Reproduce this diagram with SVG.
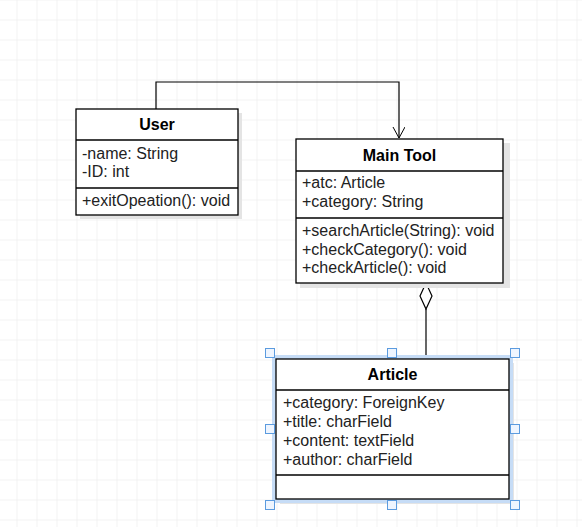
<svg xmlns="http://www.w3.org/2000/svg" width="582" height="527" viewBox="0 0 582 527">
<defs>
<pattern id="grid" x="16.5" y="19.5" width="20" height="20" patternUnits="userSpaceOnUse">
<path d="M0 0H20M0 0V20" fill="none" stroke="#e8e8e8" stroke-width="1"/>
</pattern>
<marker id="open" markerWidth="14" markerHeight="14" refX="11" refY="6" orient="auto" markerUnits="userSpaceOnUse">
<path d="M0 0L11 6L0 12" fill="none" stroke="#000" stroke-width="1"/>
</marker>
</defs>
<style>
.box{fill:#fff;stroke:#000;stroke-width:1.3}
.sh{fill:#e4e4e4}
.sep{stroke:#000;stroke-width:1.3}
.t{font-family:"Liberation Sans",Arial,sans-serif;font-size:16px;fill:#222}
.h{font-family:"Liberation Sans",Arial,sans-serif;font-size:16px;font-weight:bold;fill:#000;text-anchor:middle}
.hd{fill:#eef5ff;stroke:#5b9bdf;stroke-width:1}
</style>
<rect width="582" height="527" fill="#fff"/>
<rect width="582" height="527" fill="url(#grid)"/>

<g id="connectors" fill="none" stroke="#000" stroke-width="1.2">
<path d="M156 109V82H399V138" marker-end="url(#open)"/>
<path d="M426 283L432 296L426 309L420 296Z" fill="#fff"/>
<path d="M426 309V359"/>
</g>

<g id="user">
<rect class="sh" x="80" y="113" width="162" height="106"/>
<rect class="box" x="76" y="109" width="162" height="106"/>
<line class="sep" x1="76" y1="140" x2="238" y2="140"/>
<line class="sep" x1="76" y1="188" x2="238" y2="188"/>
<text class="h" x="157" y="130">User</text>
<text class="t" x="82" y="159">-name: String</text>
<text class="t" x="82" y="177">-ID: int</text>
<text class="t" x="82" y="206">+exitOpeation(): void</text>
</g>

<g id="maintool">
<rect class="sh" x="300" y="143" width="210" height="145"/>
<rect class="box" x="296" y="139" width="207" height="144"/>
<line class="sep" x1="296" y1="171" x2="503" y2="171"/>
<line class="sep" x1="296" y1="218" x2="503" y2="218"/>
<text class="h" x="399.5" y="161">Main Tool</text>
<text class="t" x="302" y="188">+atc: Article</text>
<text class="t" x="302" y="207">+category: String</text>
<text class="t" x="302" y="236">+searchArticle(String): void</text>
<text class="t" x="302" y="255">+checkCategory(): void</text>
<text class="t" x="302" y="273">+checkArticle(): void</text>
</g>

<g id="article">
<rect class="sh" x="280" y="363" width="234" height="141"/>
<rect x="274" y="357" width="237" height="144" fill="none" stroke="#c6dcf6" stroke-width="4"/>
<rect class="box" x="276" y="359" width="233" height="140"/>
<line class="sep" x1="276" y1="390" x2="509" y2="390"/>
<line class="sep" x1="276" y1="475" x2="509" y2="475"/>
<text class="h" x="392.5" y="380">Article</text>
<text class="t" x="283" y="408">+category: ForeignKey</text>
<text class="t" x="283" y="427">+title: charField</text>
<text class="t" x="283" y="446">+content: textField</text>
<text class="t" x="283" y="465">+author: charField</text>
<rect class="hd" x="265.5" y="348.5" width="9" height="9"/>
<rect class="hd" x="387.5" y="348.5" width="9" height="9"/>
<rect class="hd" x="510.5" y="348.5" width="9" height="9"/>
<rect class="hd" x="265.5" y="424.5" width="9" height="9"/>
<rect class="hd" x="510.5" y="424.5" width="9" height="9"/>
<rect class="hd" x="265.5" y="500.5" width="9" height="9"/>
<rect class="hd" x="387.5" y="500.5" width="9" height="9"/>
<rect class="hd" x="510.5" y="500.5" width="9" height="9"/>
</g>
</svg>
